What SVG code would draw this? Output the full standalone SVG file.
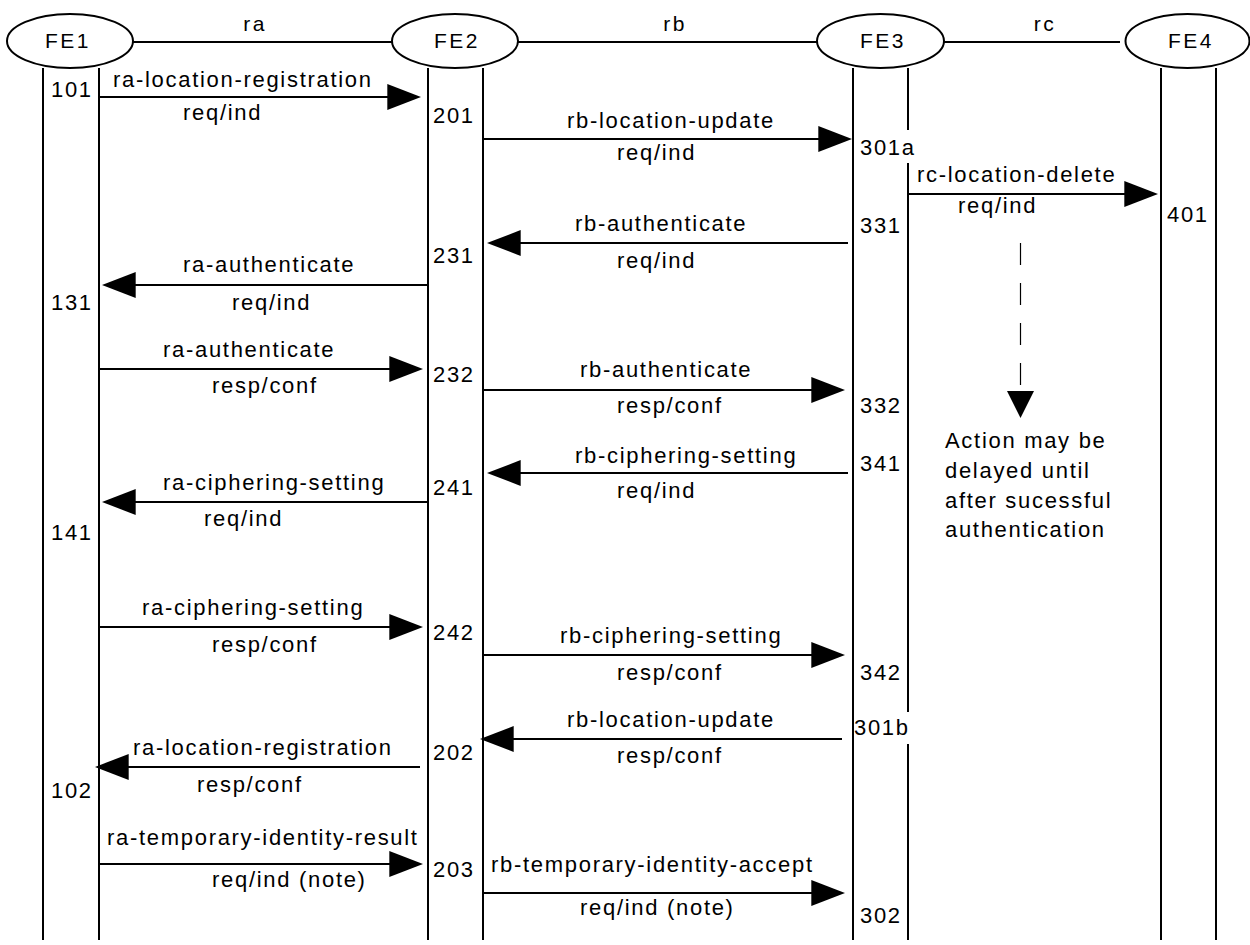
<svg xmlns="http://www.w3.org/2000/svg" width="1250" height="945" viewBox="0 0 1250 945">
<style>
.t{font-family:"Liberation Sans",Arial,sans-serif;font-size:22px;letter-spacing:1.7px;fill:#000}
.h{font-family:"Liberation Sans",Arial,sans-serif;font-size:21px;letter-spacing:2.5px;fill:#000;text-anchor:middle}
.ll{stroke:#000;stroke-width:2;fill:none}
.el{stroke:#000;stroke-width:2;fill:#fff}
.ar{stroke:#000;stroke-width:2;fill:none;marker-end:url(#ah)}
</style>
<defs>
<marker id="ah" markerUnits="userSpaceOnUse" markerWidth="34" markerHeight="26" viewBox="0 0 33 25" refX="23" refY="12.5" orient="auto">
<path d="M0,0 L33,12.5 L0,25 z" fill="#000"/>
</marker>
</defs>
<rect width="1250" height="945" fill="#fff"/>

<g id="interfaces">
<line class="ll" x1="133" y1="42" x2="392" y2="42"/>
<line class="ll" x1="518" y1="42" x2="817" y2="42"/>
<line class="ll" x1="944" y1="42" x2="1120" y2="42"/>
<text class="h" x="255" y="31">ra</text>
<text class="h" x="675" y="31">rb</text>
<text class="h" x="1045" y="31">rc</text>
</g>

<g id="FE1">
<ellipse class="el" cx="70" cy="41" rx="63" ry="27"/>
<text class="h" x="68" y="48">FE1</text>
<line class="ll" x1="43" y1="68" x2="43" y2="940"/>
<line class="ll" x1="99" y1="68" x2="99" y2="940"/>
</g>
<g id="FE2">
<ellipse class="el" cx="455" cy="41" rx="63" ry="27"/>
<text class="h" x="457" y="48">FE2</text>
<line class="ll" x1="428" y1="68" x2="428" y2="940"/>
<line class="ll" x1="483" y1="68" x2="483" y2="940"/>
</g>
<g id="FE3">
<ellipse class="el" cx="880.5" cy="41" rx="63.5" ry="27"/>
<text class="h" x="883" y="48">FE3</text>
<line class="ll" x1="853" y1="68" x2="853" y2="940"/>
<line class="ll" x1="908" y1="68" x2="908" y2="130"/>
<line class="ll" x1="908" y1="163" x2="908" y2="712"/>
<line class="ll" x1="908" y1="744" x2="908" y2="940"/>
</g>
<g id="FE4">
<ellipse class="el" cx="1187.5" cy="41" rx="62" ry="27"/>
<text class="h" x="1191" y="48">FE4</text>
<line class="ll" x1="1161" y1="68" x2="1161" y2="940"/>
<line class="ll" x1="1216" y1="68" x2="1216" y2="940"/>
</g>

<g id="connectors">
<line class="ar" x1="99" y1="97" x2="411" y2="97"/>
<line class="ar" x1="483" y1="139" x2="842" y2="139"/>
<line class="ar" x1="908" y1="194" x2="1148" y2="194"/>
<line class="ar" x1="848" y1="243" x2="497" y2="243"/>
<line class="ar" x1="427" y1="285" x2="112" y2="285"/>
<line class="ar" x1="99" y1="369" x2="413" y2="369"/>
<line class="ar" x1="483" y1="390" x2="835" y2="390"/>
<line class="ar" x1="848" y1="473" x2="497" y2="473"/>
<line class="ar" x1="427" y1="502" x2="112" y2="502"/>
<line class="ar" x1="99" y1="627" x2="413" y2="627"/>
<line class="ar" x1="483" y1="655" x2="835" y2="655"/>
<line class="ar" x1="842" y1="739" x2="490" y2="739"/>
<line class="ar" x1="420" y1="767" x2="105" y2="767"/>
<line class="ar" x1="99" y1="864" x2="413" y2="864"/>
<line class="ar" x1="483" y1="893" x2="835" y2="893"/>
<line x1="1020.5" y1="243" x2="1020.5" y2="392" stroke="#000" stroke-width="1.2" stroke-dasharray="22 18"/>
<path d="M1007,391 L1034,391 L1020.5,418 z" fill="#000"/>
</g>

<g id="labels">
<text class="t" x="113" y="87">ra-location-registration</text>
<text class="t" x="183" y="120">req/ind</text>
<text class="t" x="51" y="97">101</text>
<text class="t" x="433" y="123">201</text>
<text class="t" x="567" y="128">rb-location-update</text>
<text class="t" x="617" y="160">req/ind</text>
<text class="t" x="860" y="155">301a</text>
<text class="t" x="917" y="182">rc-location-delete</text>
<text class="t" x="958" y="213">req/ind</text>
<text class="t" x="1167" y="222">401</text>
<text class="t" x="860" y="233">331</text>
<text class="t" x="575" y="231">rb-authenticate</text>
<text class="t" x="617" y="268">req/ind</text>
<text class="t" x="433" y="263">231</text>
<text class="t" x="183" y="272">ra-authenticate</text>
<text class="t" x="232" y="310">req/ind</text>
<text class="t" x="51" y="310">131</text>
<text class="t" x="163" y="357">ra-authenticate</text>
<text class="t" x="212" y="393">resp/conf</text>
<text class="t" x="433" y="382">232</text>
<text class="t" x="580" y="377">rb-authenticate</text>
<text class="t" x="617" y="413">resp/conf</text>
<text class="t" x="860" y="413">332</text>
<text class="t" x="575" y="463">rb-ciphering-setting</text>
<text class="t" x="617" y="498">req/ind</text>
<text class="t" x="860" y="471">341</text>
<text class="t" x="163" y="490">ra-ciphering-setting</text>
<text class="t" x="204" y="526">req/ind</text>
<text class="t" x="51" y="540">141</text>
<text class="t" x="433" y="495">241</text>
<text class="t" x="142" y="615">ra-ciphering-setting</text>
<text class="t" x="212" y="652">resp/conf</text>
<text class="t" x="433" y="640">242</text>
<text class="t" x="560" y="643">rb-ciphering-setting</text>
<text class="t" x="617" y="680">resp/conf</text>
<text class="t" x="860" y="680">342</text>
<text class="t" x="567" y="727">rb-location-update</text>
<text class="t" x="617" y="763">resp/conf</text>
<text class="t" x="854" y="735">301b</text>
<text class="t" x="133" y="755">ra-location-registration</text>
<text class="t" x="197" y="792">resp/conf</text>
<text class="t" x="51" y="798">102</text>
<text class="t" x="433" y="760">202</text>
<text class="t" x="107" y="845">ra-temporary-identity-result</text>
<text class="t" x="212" y="887">req/ind (note)</text>
<text class="t" x="433" y="877">203</text>
<text class="t" x="491" y="872">rb-temporary-identity-accept</text>
<text class="t" x="580" y="915">req/ind (note)</text>
<text class="t" x="860" y="923">302</text>
</g>

<g id="note">
<text class="t" x="945" y="448">Action may be</text>
<text class="t" x="945" y="478">delayed until</text>
<text class="t" x="945" y="508">after sucessful</text>
<text class="t" x="945" y="537">authentication</text>
</g>
</svg>
